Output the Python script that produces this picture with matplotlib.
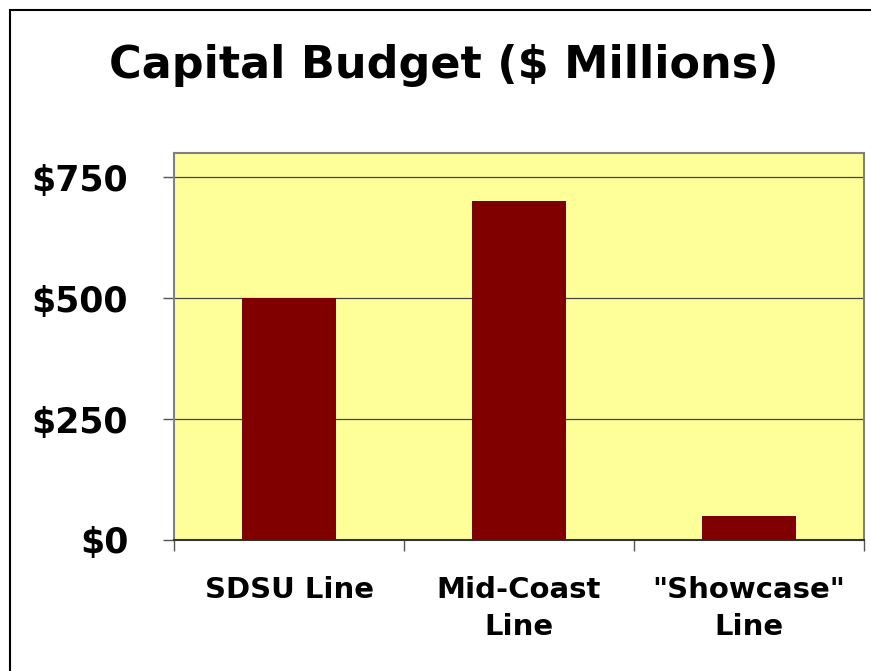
import matplotlib
matplotlib.use("Agg")
import matplotlib.pyplot as plt
from matplotlib.patches import Rectangle
from matplotlib.ticker import FixedLocator, NullFormatter

categories = ["SDSU Line", "Mid-Coast\nLine", "\"Showcase\"\nLine"]
values = [500, 700, 50]
yticks = [0, 250, 500, 750]
ytick_labels = ["$0", "$250", "$500", "$750"]

W, H = 871, 671
fig = plt.figure(figsize=(W / 100, H / 100), dpi=100)
fig.patch.set_facecolor("white")

# figure border (left/top visible, right/bottom extend off canvas)
fig.patches.append(Rectangle((10 / W, -0.05), 1.2, 1 - 10 / H + 0.05,
                             transform=fig.transFigure, fill=False,
                             edgecolor="black", linewidth=1.5, zorder=0))

ax = fig.add_axes([174 / W, 131 / H, 690 / W, 387 / H])
ax.set_facecolor("#FFFF99")
x = list(range(len(categories)))
ax.bar(x, values, width=0.405, color="#800000", zorder=3)
ax.set_xlim(-0.5, len(categories) - 0.5)
ax.set_ylim(0, 800)

ax.set_yticks(yticks)
ax.set_yticklabels(ytick_labels, fontsize=25, fontweight="bold", family="DejaVu Sans")
ax.tick_params(axis="y", direction="out", length=8, width=1, color="#555555", pad=25)
ax.grid(axis="y", color="#444444", linewidth=0.9, zorder=1)

ax.set_xticks(x)
ax.set_xticklabels(categories, fontsize=21, fontweight="bold", family="DejaVu Sans",
                   linespacing=1.4)
ax.tick_params(axis="x", which="major", length=0, pad=26)
ax.xaxis.set_minor_locator(FixedLocator([-0.5, 0.5, 1.5, 2.5]))
ax.xaxis.set_minor_formatter(NullFormatter())
ax.tick_params(axis="x", which="minor", direction="out", length=8, width=1, color="#555555")

for s in ["top", "left", "right"]:
    ax.spines[s].set_color("#808080")
    ax.spines[s].set_linewidth(1.5)
ax.spines["bottom"].set_color("#333333")
ax.spines["bottom"].set_linewidth(1.5)
ax.set_axisbelow(True)

fig.text(443.5 / W, 1 - 78 / H, "Capital Budget ($ Millions)", ha="center", va="baseline",
         fontsize=32, fontweight="bold", family="DejaVu Sans")

fig.savefig("out.png", dpi=100)
